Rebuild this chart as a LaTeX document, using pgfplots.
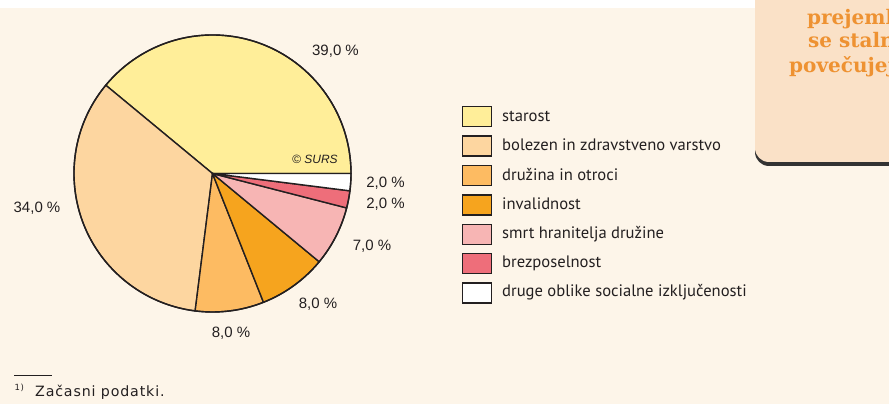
\documentclass[border=0pt]{standalone}
\usepackage{pgfplots}
\pgfplotsset{compat=1.18}
\usepackage{pgfplotstable}
\usepackage{fontspec}
\setmainfont{Liberation Sans}
\newfontfamily\legfont{PT Sans}
\newfontfamily\footfont[LetterSpace=6]{DejaVu Sans}
\newfontfamily\boxfont{DejaVu Serif}
\definecolor{bgcream}{HTML}{FDF5E9}
\definecolor{boxbg}{HTML}{FAE1C7}
\definecolor{boxtxt}{HTML}{EE9232}
\definecolor{edge}{HTML}{231F20}
\definecolor{txt}{HTML}{231F20}
\definecolor{cA}{HTML}{FFEE99}
\definecolor{cB}{HTML}{FDD6A0}
\definecolor{cC}{HTML}{FDBB62}
\definecolor{cD}{HTML}{F6A41E}
\definecolor{cE}{HTML}{F7B5B4}
\definecolor{cF}{HTML}{EE6E7A}
\definecolor{cG}{HTML}{FFFFFF}

\pgfplotstableread[col sep=comma]{
label,value,col
starost,39,cA
bolezen in zdravstveno varstvo,34,cB
družina in otroci,8,cC
invalidnost,8,cD
smrt hranitelja družine,7,cE
brezposelnost,2,cF
druge oblike socialne izključenosti,2,cG
}\piedata

\begin{document}
\begin{tikzpicture}[x=1pt,y=1pt]
\useasboundingbox (0,0) rectangle (889,404);
\clip (0,0) rectangle (889,404);
% background
\fill[white] (0,0) rectangle (889,404);
\fill[bgcream] (0,0) rectangle (889,396);
% orange side box with shadow
\fill[black!80, rounded corners=14pt] (755,238) rectangle (910,430);
\fill[boxbg, rounded corners=14pt] (755,242) rectangle (910,430);
\node[anchor=base west, text=boxtxt, font=\boxfont\bfseries\fontsize{20}{24}\selectfont, inner sep=0pt] at (807,379) {prejemki};
\node[anchor=base west, text=boxtxt, font=\boxfont\bfseries\fontsize{20}{24}\selectfont, inner sep=0pt] at (808,356) {se stalno};
\node[anchor=base west, text=boxtxt, font=\boxfont\bfseries\fontsize{20}{24}\selectfont, inner sep=0pt] at (789,331) {povečujejo};

\begin{axis}[
  x=1pt, y=1pt,
  xmin=0, xmax=889, ymin=0, ymax=404,
  scale only axis, hide axis, clip=false,
  at={(0,0)}, anchor=south west,
]
\def\cum{0}
\pgfplotsforeachungrouped \i in {0,...,6}{%
  \pgfplotstablegetelem{\i}{value}\of\piedata \let\sliceval\pgfplotsretval
  \pgfplotstablegetelem{\i}{col}\of\piedata \let\slicecol\pgfplotsretval
  \pgfplotstablegetelem{\i}{label}\of\piedata \let\slicelab\pgfplotsretval
  \pgfmathsetmacro\angA{\cum*3.6}%
  \pgfmathsetmacro\cum{\cum+\sliceval}%
  \pgfmathsetmacro\angB{\cum*3.6}%
  \pgfmathsetmacro\ly{287.3-29.4*\i}%
  \pgfmathsetmacro\lb{282.3-29.17*\i}%
  \edef\cmd{%
    \noexpand\filldraw[fill=\slicecol,draw=edge,line width=1.4pt,line join=round]
      (axis cs:212.5,230.5) -- (axis cs:{212.5+138.5*cos(\angA)},{230.5+138.5*sin(\angA)})
      arc[start angle=\angA,end angle=\angB,radius=138.5pt] -- cycle;
    \noexpand\filldraw[fill=\slicecol,draw=edge,line width=1.4pt]
      (axis cs:462.5,{\ly-10}) rectangle (axis cs:491.5,{\ly+10});
    \noexpand\node[anchor=base west,inner sep=0pt,text=txt,font=\noexpand\legfont\noexpand\fontsize{16.6}{19}\noexpand\selectfont]
      at (axis cs:502,\lb) {\slicelab};
  }\cmd
}
\draw[edge,line width=1.4pt] (axis cs:212.5,230.5) circle[radius=138.5pt];
% value labels
\begin{scope}[every node/.style={anchor=base,inner sep=0pt,text=txt,font=\fontsize{15}{18}\selectfont}]
\node at (axis cs:335.5,348) {39,0 \%};
\node at (axis cs:37,191.7) {34,0 \%};
\node at (axis cs:231,66.7) {8,0 \%};
\node at (axis cs:318,95.7) {8,0 \%};
\node at (axis cs:372,153.3) {7,0 \%};
\node at (axis cs:385.5,195.7) {2,0 \%};
\node at (axis cs:385.5,216.7) {2,0 \%};
\end{scope}
\node[anchor=base,inner sep=0pt,text=txt,font=\itshape\fontsize{12}{14}\selectfont] at (axis cs:315,240) {© SURS};
% footnote
\draw[txt,line width=0.8pt] (axis cs:14,29) -- (axis cs:52,29);
\node[anchor=base west,inner sep=0pt,text=txt,font=\footfont\fontsize{8.5}{10}\selectfont] at (axis cs:14.5,13.3) {1)};
\node[anchor=base west,inner sep=0pt,text=txt,font=\footfont\fontsize{14.2}{16}\selectfont] at (axis cs:35,7.3) {Začasni podatki.};
\end{axis}
\end{tikzpicture}
\end{document}
